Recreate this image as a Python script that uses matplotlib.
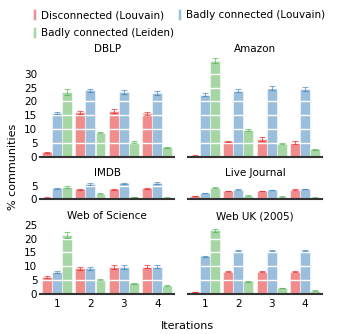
import matplotlib
matplotlib.use("Agg")
import matplotlib.pyplot as plt
import numpy as np

# values (percent of communities), iterations 1..4
iterations = [1, 2, 3, 4]
datasets = ["DBLP", "Amazon", "IMDB", "Live Journal", "Web of Science", "Web UK (2005)"]

disc_louvain = {
    "DBLP": [1.5, 16.0, 16.5, 15.7],
    "Amazon": [0.3, 5.5, 6.4, 5.2],
    "IMDB": [0.6, 3.6, 3.7, 4.1],
    "Live Journal": [1.3, 3.1, 3.0, 3.5],
    "Web of Science": [6.1, 9.2, 9.7, 9.8],
    "Web UK (2005)": [0.7, 8.0, 8.0, 8.0],
}
bad_louvain = {
    "DBLP": [15.8, 24.0, 23.3, 23.0],
    "Amazon": [22.4, 23.9, 24.8, 24.5],
    "IMDB": [4.0, 5.5, 5.8, 6.0],
    "Live Journal": [2.3, 3.5, 3.4, 3.7],
    "Web of Science": [7.9, 9.2, 9.7, 9.8],
    "Web UK (2005)": [13.7, 15.6, 15.6, 15.6],
}
bad_leiden = {
    "DBLP": [23.3, 8.7, 5.2, 3.3],
    "Amazon": [34.7, 9.6, 4.6, 2.6],
    "IMDB": [4.5, 2.0, 0.8, 0.6],
    "Live Journal": [4.2, 1.4, 1.0, 0.6],
    "Web of Science": [21.3, 5.1, 3.9, 3.0],
    "Web UK (2005)": [23.0, 4.5, 2.2, 1.2],
}
# rough error bar sizes
err_disc = {
    "DBLP": [0.2, 0.6, 0.7, 0.5],
    "Amazon": [0.1, 0.3, 0.8, 0.5],
    "IMDB": [0.1, 0.2, 0.2, 0.2],
    "Live Journal": [0.1, 0.1, 0.1, 0.1],
    "Web of Science": [0.5, 0.6, 0.6, 0.5],
    "Web UK (2005)": [0.1, 0.2, 0.2, 0.2],
}
err_bad_louvain = {
    "DBLP": [0.5, 0.6, 0.7, 0.7],
    "Amazon": [0.5, 0.5, 0.7, 0.7],
    "IMDB": [0.2, 0.3, 0.3, 0.3],
    "Live Journal": [0.1, 0.1, 0.1, 0.1],
    "Web of Science": [0.5, 0.6, 0.6, 0.5],
    "Web UK (2005)": [0.2, 0.2, 0.2, 0.2],
}
err_bad_leiden = {
    "DBLP": [1.0, 0.3, 0.3, 0.2],
    "Amazon": [1.0, 0.3, 0.2, 0.2],
    "IMDB": [0.2, 0.2, 0.1, 0.1],
    "Live Journal": [0.2, 0.1, 0.1, 0.1],
    "Web of Science": [1.0, 0.2, 0.2, 0.2],
    "Web UK (2005)": [0.5, 0.2, 0.1, 0.1],
}

labels = ["Disconnected (Louvain)", "Badly connected (Louvain)", "Badly connected (Leiden)"]
colors = ["#e41a1c", "#377eb8", "#4daf4a"]

row_ylim = [36, 6.3, 25]
row_ticks = [[0, 5, 10, 15, 20, 25, 30], [0, 5], [0, 5, 10, 15, 20, 25]]

plt.rcParams["font.family"] = "DejaVu Sans"
plt.rcParams["font.size"] = 7.5

fig = plt.figure(figsize=(3.4, 3.34), dpi=100)
gs = fig.add_gridspec(3, 2, height_ratios=row_ylim, left=0.118, right=0.947,
                      top=0.829, bottom=0.12, hspace=0.41, wspace=0.105)

x = np.array(iterations)
w = 0.29
offsets = [-0.3, 0.0, 0.3]
handles = []

for k, name in enumerate(datasets):
    r, c = k // 2, k % 2
    ax = fig.add_subplot(gs[r, c])
    series = [disc_louvain[name], bad_louvain[name], bad_leiden[name]]
    errs = [err_disc[name], err_bad_louvain[name], err_bad_leiden[name]]
    for s in range(3):
        b = ax.bar(x + offsets[s], series[s], width=w, color=colors[s], alpha=0.5,
                   edgecolor="white", linewidth=0.8, zorder=1, label=labels[s])
        ax.errorbar(x + offsets[s], series[s], yerr=errs[s], fmt="none",
                    ecolor=colors[s], alpha=0.6, capsize=2.5, elinewidth=0.8,
                    capthick=0.8, zorder=3)
        if k == 0:
            handles.append(b)
    ax.set_xlim(0.5, 4.5)
    ax.set_ylim(0, row_ylim[r])
    ax.set_yticks(row_ticks[r])
    ax.set_xticks(iterations)
    ax.grid(axis="y", color="white", linewidth=1.0, zorder=2)
    ax.set_axisbelow(False)
    for sp in ["top", "right", "left"]:
        ax.spines[sp].set_visible(False)
    ax.spines["bottom"].set_color("#333333")
    ax.spines["bottom"].set_linewidth(1.5)
    ax.spines["bottom"].set_zorder(4)
    ax.tick_params(length=0, pad=2)
    if c == 1:
        ax.tick_params(labelleft=False)
    if r < 2:
        ax.tick_params(labelbottom=False)
    else:
        ax.tick_params(axis="x", pad=4)
    ax.set_title(name, fontsize=7.5, pad=4)

fig.legend([handles[0], handles[2], handles[1]], [labels[0], labels[2], labels[1]],
           loc="upper left", bbox_to_anchor=(0.075, 0.995), ncol=2, frameon=False,
           handlelength=0.35, handleheight=1.3, handletextpad=0.4,
           columnspacing=0.4, labelspacing=0.6, fontsize=7.5, borderaxespad=0.3)

fig.supylabel("% communities", fontsize=8, x=0.025, y=0.5)
fig.supxlabel("Iterations", fontsize=8, x=0.55, y=0.01)

fig.savefig("out.png", dpi=100)
